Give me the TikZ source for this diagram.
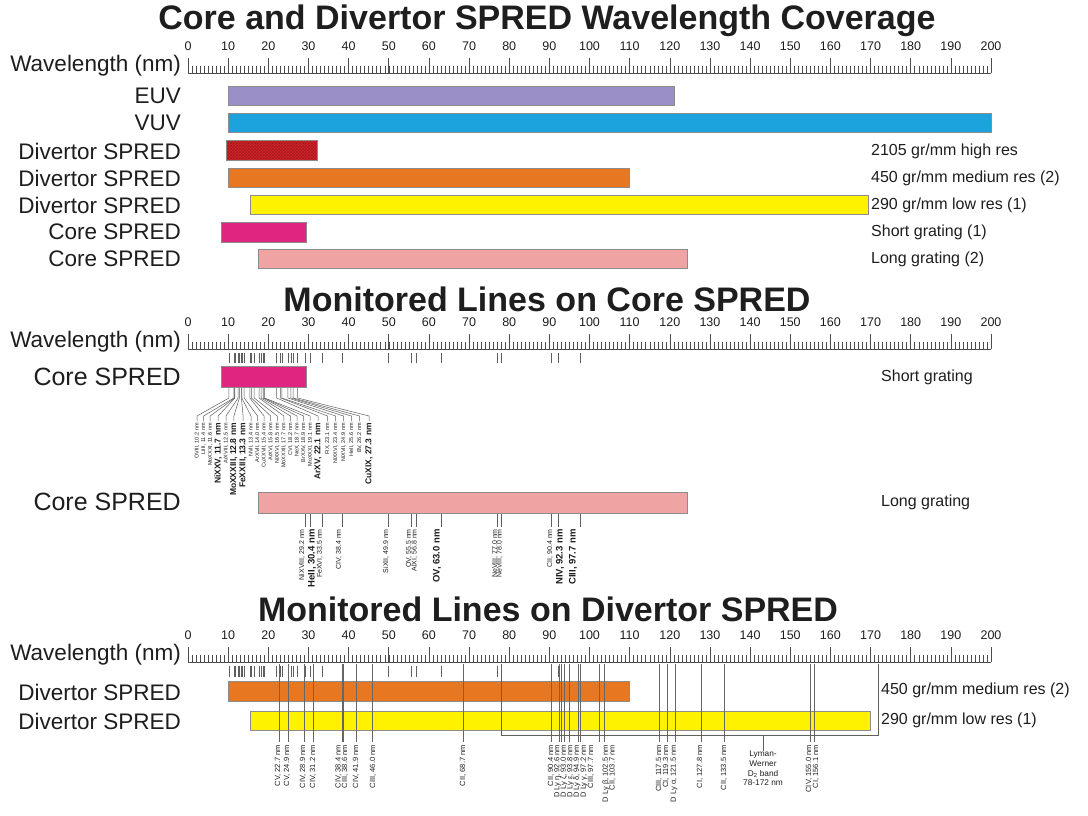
\documentclass[tikz,border=0pt]{standalone}
\usepackage{fontspec}
\setmainfont{Liberation Sans}
\usetikzlibrary{patterns}
\definecolor{euvc}{RGB}{154,143,198}
\definecolor{vuvc}{RGB}{28,163,221}
\definecolor{redc}{RGB}{214,38,42}
\definecolor{redh}{RGB}{165,25,30}
\definecolor{orc}{RGB}{232,119,34}
\definecolor{yelc}{RGB}{255,242,0}
\definecolor{magc}{RGB}{222,38,128}
\definecolor{pinkc}{RGB}{240,163,163}
\definecolor{txt}{RGB}{30,30,30}
\definecolor{lnc}{RGB}{95,95,95}
\tikzset{
  titlet/.style={font=\fontsize{34}{36}\selectfont\bfseries, inner sep=0, text=txt},
  rnum/.style={font=\fontsize{12.5}{12.5}\selectfont, inner sep=0, text=txt},
  axlbl/.style={font=\fontsize{22.5}{22.5}\selectfont, anchor=east, inner sep=0, text=txt},
  corelbl/.style={font=\fontsize{25}{25}\selectfont, anchor=east, inner sep=0, text=txt},
  rlbl/.style={font=\fontsize{16}{16}\selectfont, anchor=west, inner sep=0, text=txt},
  barbox/.style={draw=black!45, line width=0.6},
  rulerc/.style={draw=black!70, line width=0.6},
  lnthin/.style={draw=lnc, line width=0.5},
  lndark/.style={draw=black!60, line width=0.7},
  fans/.style={font=\fontsize{5.5}{6}\selectfont, rotate=90, anchor=east, inner sep=0, text=txt},
  fanb/.style={font=\fontsize{8.5}{9}\selectfont\bfseries, rotate=90, anchor=east, inner sep=0, text=txt},
  lgs/.style={font=\fontsize{7}{8}\selectfont, rotate=90, anchor=east, inner sep=0, text=txt},
  lgb/.style={font=\fontsize{9.5}{10}\selectfont\bfseries, rotate=90, anchor=east, inner sep=0, text=txt},
  dvs/.style={font=\fontsize{7.5}{8}\selectfont, rotate=90, anchor=east, inner sep=0, text=txt},
}
\newcommand\spruler[2]{%
  \draw[rulerc] (188,#2) -- (991,#2);
  \foreach \k in {0,...,200} \draw[rulerc, line width=0.45] ({188+4.015*\k},#2) -- ++(0,-7);
  \foreach \k in {0,10,...,200} {
    \draw[rulerc] ({188+4.015*\k},#2) -- ++(0,-15);
    \node[rnum] (#1n\k) at ({188+4.015*\k},{#2-27}) {\k};
  }
}
\begin{document}
\begin{tikzpicture}[x=1pt,y=-1pt]
\useasboundingbox[fill=white] (0,0) rectangle (1088,815);

% ================= Section 1 =================
\node[titlet] (t1) at (547,21) {Core and Divertor SPRED Wavelength Coverage};
\spruler{ra}{73}
\node[axlbl] (wa) at (181,66) {Wavelength (nm)};

\draw[barbox, fill=euvc] (228,86) rectangle (674,105);
\draw[barbox, fill=vuvc] (228,113) rectangle (991,132);
\draw[barbox, fill=redc] (226,140) rectangle (317,160);
\fill[pattern=crosshatch, pattern color=redh] (226,140) rectangle (317,160);
\draw[barbox] (226,140) rectangle (317,160);
\draw[barbox, fill=orc] (228,168) rectangle (629,187);
\draw[barbox, fill=yelc] (250,195) rectangle (868,214);
\draw[barbox, fill=magc] (221,222) rectangle (306,242);
\draw[barbox, fill=pinkc] (258,249) rectangle (687,268);

\node[axlbl] (la1) at (181,96) {EUV};
\node[axlbl] (la2) at (181,123) {VUV};
\node[axlbl] (la3) at (181,151) {Divertor SPRED};
\node[axlbl] (la4) at (181,178) {Divertor SPRED};
\node[axlbl] (la5) at (181,205) {Divertor SPRED};
\node[axlbl] (la6) at (181,232) {Core SPRED};
\node[axlbl] (la7) at (181,259) {Core SPRED};

\node[rlbl] (ra3) at (871,151) {2105 gr/mm high res};
\node[rlbl] (ra4) at (871,178) {450 gr/mm medium res (2)};
\node[rlbl] (ra5) at (871,205) {290 gr/mm low res (1)};
\node[rlbl] (ra6) at (871,232) {Short grating (1)};
\node[rlbl] (ra7) at (871,259) {Long grating (2)};

% ================= Section 2 =================
\node[titlet] (t2) at (547,299) {Monitored Lines on Core SPRED};
\spruler{rb}{349}
\node[axlbl] (wb) at (181,342) {Wavelength (nm)};

\foreach \w in {10.2,11.4,11.6,11.7,12.5,12.8,13.3,13.4,14.0,15.4,15.8,16.5,17.7,18.2,18.7,18.9,19.1,22.1,23.1,23.4,24.9,25.6,26.2,27.3,29.2,30.4,33.5,38.4,49.9,55.5,56.8,63.0,77.0,78.0,90.4,92.3,97.7}
  \draw[lnthin] ({188+4.015*\w},353) -- ++(0,10);

\draw[barbox, fill=magc] (221,366) rectangle (306,387);
\node[corelbl] (lb1) at (181,377) {Core SPRED};
\node[rlbl] (rb1) at (881,377) {Short grating};

\foreach \w/\ion/\lx [count=\i] in {10.2/OVIII/197, 11.4/LiIII/203.6, 11.6/MoXXXI/210.2, 12.5/ArXVIII/226.0, 13.4/NVII/251.0, 14.0/ArXVII/257.6, 15.4/CuXXVII/264.1, 15.8/ArXVI/270.7, 16.5/NiXXVI/277.3, 17.7/MoXXXII/283.9, 18.2/CVI/290.5, 18.7/NeX/297.0, 18.9/BrXXV/303.6, 19.1/MoXXXI/310.2, 23.1/FIX/327.6, 23.4/NiXXVI/335.6, 24.9/NiXVII/343.6, 25.6/HeII/351.5, 26.2/BV/359.5} {
  \draw[lnthin] ({188+4.015*\w},388) -- ++(0,10) -- (\lx,416) -- (\lx,421);
  \node[fans] (fs\i) at (\lx,423) {\ion, \w~nm};
}
\foreach \w/\ion/\lx [count=\i] in {11.7/NiXXV/218.1, 12.8/MoXXXIII/233.9, 13.3/FeXXIII/243.1, 22.1/ArXV/318.1, 27.3/CuXIX/369.1} {
  \draw[lnthin] ({188+4.015*\w},388) -- ++(0,10) -- (\lx,416) -- (\lx,421);
  \node[fanb] (fb\i) at (\lx,423) {\ion, \w~nm};
}

\draw[barbox, fill=pinkc] (258,492) rectangle (687,513);
\node[corelbl] (lb2) at (181,502) {Core SPRED};
\node[rlbl] (rb2) at (881,502) {Long grating};

\foreach \w/\ion/\lx [count=\i] in {29.2/NiXVIII/302, 33.5/FeXVI/320, 38.4/CIV/339, 49.9/SiXII/386, 55.5/OV/409, 56.8/AlXI/414.5, 77.0/NeVIII/495, 78.0/NeVIII/499.5, 90.4/CII/550} {
  \draw[lnthin] ({188+4.015*\w},514) -- ++(0,13);
  \node[lgs] (ls\i) at (\lx,529) {\ion, \w~nm};
}
\foreach \w/\ion/\lx [count=\i] in {30.4/HeII/312, 63.0/OV/437, 92.3/NIV/560, 97.7/CIII/573} {
  \draw[lnthin] ({188+4.015*\w},514) -- ++(0,13);
  \node[lgb] (lb\i) at (\lx,529) {\ion, \w~nm};
}

% ================= Section 3 =================
\node[titlet] (t3) at (548,609) {Monitored Lines on Divertor SPRED};
\spruler{rc}{662}
\node[axlbl] (wc) at (181,655) {Wavelength (nm)};

\foreach \w in {10.2,11.4,11.6,11.7,12.5,12.8,13.3,13.4,14.0,15.4,15.8,16.5,17.7,18.2,18.7,18.9,19.1,22.1,23.1,23.4,24.9,25.6,26.2,27.3,29.2,30.4,33.5,38.4,49.9,55.5,56.8,63.0,77.0,78.0,90.4,92.3,97.7}
  \draw[lnthin] ({188+4.015*\w},666) -- ++(0,11);

\draw[barbox, fill=orc] (228,681) rectangle (629,701);
\draw[barbox, fill=yelc] (250,711) rectangle (870,730);
\node[axlbl] (lc1) at (181,692) {Divertor SPRED};
\node[axlbl] (lc2) at (181,721) {Divertor SPRED};
\node[rlbl] (rc1) at (881,690) {450 gr/mm medium res (2)};
\node[rlbl] (rc2) at (881,720) {290 gr/mm low res (1)};

% Lyman-Werner band bracket
\coordinate (lwa) at ({188+4.015*78},664);
\coordinate (lwb) at ({188+4.015*172},664);
\coordinate (lwt) at (763,735);
\draw[lnthin] (lwa) |- (lwt) -| (lwb);
\node[align=center, anchor=north, inner sep=0, text=txt, font=\fontsize{8.3}{9.6}\selectfont] (lw) at (763,751) {Lyman-\\Werner\\D\textsubscript{2} band\\78-172 nm};
\draw[lnthin] (lwt) -- (lw.north);

\foreach \w/\ion/\lx [count=\i] in {22.7/CV/278, 24.9/CV/287, 28.9/CIV/303, 31.2/CIV/313, 38.4/CIV/338.5, 38.6/CIII/345, 41.9/CIV/356, 46.0/CIII/373, 68.7/CII/463, 90.4/CII/551, 92.6/D Ly η/557.5, 93.0/D Ly ζ/564, 93.8/D Ly ε/570.5, 94.9/D Ly δ/577, 97.2/D Ly γ/584, 97.7/CIII/591, 102.5/D Ly β/606, 103.7/CII/612.5, 117.5/CIII/659, 119.3/CI/666, 121.5/D Ly α/674, 127.8/CI/700, 133.5/CII/724, 155.0/CIV/809, 156.1/CI/816} {
  \draw[lndark] ({188+4.015*\w},664) -- ++(0,78);
  \node[dvs] (dv\i) at (\lx,745) {\ion, \w~nm};
}
\end{tikzpicture}
\end{document}
